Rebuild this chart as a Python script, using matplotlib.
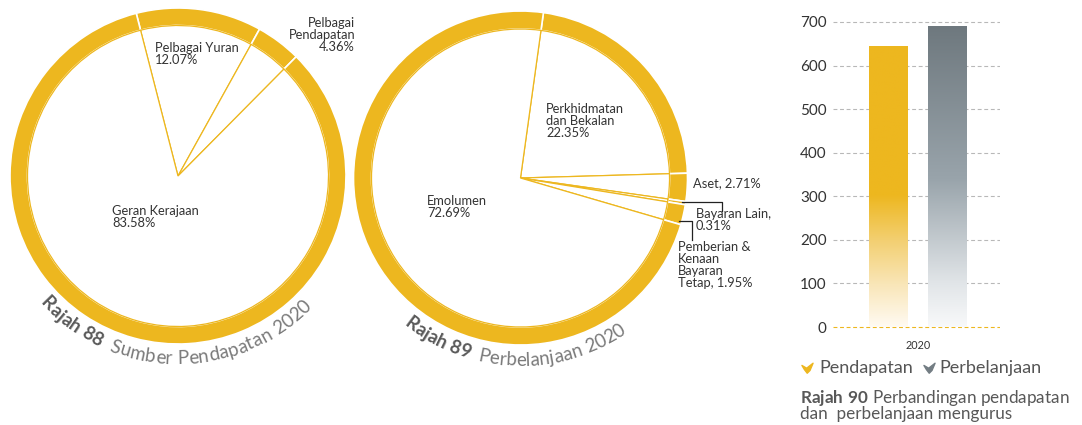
import numpy as np
import matplotlib
matplotlib.use('Agg')
import matplotlib.pyplot as plt
from matplotlib.path import Path
from matplotlib.colors import LinearSegmentedColormap
from matplotlib.font_manager import FontProperties

# ---------------- data ----------------
rev_labels = ['Pelbagai Yuran', 'Pelbagai Pendapatan', 'Geran Kerajaan']
rev_pct = [12.07, 4.36, 83.58]
exp_labels = ['Perkhidmatan dan Bekalan', 'Aset', 'Bayaran Lain',
              'Pemberian & Kenaan Bayaran Tetap', 'Emolumen']
exp_pct = [22.35, 2.71, 0.31, 1.95, 72.69]
years = ['2020']
pendapatan = [644]
perbelanjaan = [691]
yticks = [0, 100, 200, 300, 400, 500, 600, 700]
series_names = ['Pendapatan', 'Perbelanjaan']

# ---------------- style ----------------
W, H = 1082, 425
YEL = '#EDB71F'
GRY = '#737D83'
FONT = 'Lato'
plt.rcParams['font.family'] = [FONT, 'DejaVu Sans']
plt.rcParams['mathtext.fontset'] = 'custom'
plt.rcParams['mathtext.rm'] = FONT
plt.rcParams['mathtext.bf'] = FONT + ':bold'

fig = plt.figure(figsize=(W / 100, H / 100), dpi=100)
ax0 = fig.add_axes([0, 0, 1, 1])
ax0.set_xlim(0, W)
ax0.set_ylim(0, H)
ax0.axis('off')
renderer = fig.canvas.get_renderer()


def tw(s, fp):
    if not s:
        return 0.0
    w1, _, _ = renderer.get_text_width_height_descent(s + '|', fp, ismath=False)
    w0, _, _ = renderer.get_text_width_height_descent('|', fp, ismath=False)
    return w1 - w0


def ring_pie(ax, values, center, r_out, ring_w, startangle):
    ax.pie(values, radius=r_out, center=center, startangle=startangle,
           counterclock=False, frame=True,
           wedgeprops=dict(width=ring_w, facecolor=YEL, edgecolor='white', linewidth=1.2))
    ax.pie(values, radius=r_out - ring_w, center=center, startangle=startangle,
           counterclock=False, frame=True,
           wedgeprops=dict(facecolor='white', edgecolor=YEL, linewidth=0.9))


def curved(ax, cx, cy, r, start_deg, parts, track=0.0):
    s = 0.0
    for txt, fp, color in parts:
        for i, ch in enumerate(txt):
            wb = tw(txt[:i], fp)
            wa = tw(txt[:i + 1], fp)
            mid = s + (wb + wa) / 2 + i * track
            th = np.radians(start_deg) + mid / r
            if ch != ' ':
                ax.text(cx + r * np.cos(th), cy + r * np.sin(th), ch,
                        rotation=np.degrees(th) + 90, rotation_mode='anchor',
                        ha='center', va='baseline', fontproperties=fp, color=color)
        s += tw(txt, fp) + len(txt) * track


# ---------------- pies ----------------
c1 = (178, H - 176)
c2 = (520.5, H - 178)
ring_pie(ax0, rev_pct, c1, 168, 17.5, 104.4)
ring_pie(ax0, exp_pct, c2, 167, 18, 82.1)
ax0.set_xlim(0, W)
ax0.set_ylim(0, H)
ax0.set_aspect('auto')

lab_kw = dict(fontsize=9.3, color='#333333', va='top', linespacing=1.0)
ax0.text(155, H - 42, f'{rev_labels[0]}\n{rev_pct[0]:.2f}%', ha='left', **lab_kw)
ax0.text(355, H - 17, 'Pelbagai\nPendapatan\n' + f'{rev_pct[1]:.2f}%', ha='right',
         multialignment='right', **lab_kw)
ax0.text(112, H - 205, f'{rev_labels[2]}\n{rev_pct[2]:.2f}%', ha='left', **lab_kw)

ax0.text(546, H - 103, 'Perkhidmatan\ndan Bekalan\n' + f'{exp_pct[0]:.2f}%', ha='left', **lab_kw)
ax0.text(427, H - 195, f'{exp_labels[4]}\n{exp_pct[4]:.2f}%', ha='left', **lab_kw)
ax0.text(693, H - 177, f'{exp_labels[1]}, {exp_pct[1]:.2f}%', ha='left', **lab_kw)
ax0.text(696, H - 208, f'{exp_labels[2]},\n{exp_pct[2]:.2f}%', ha='left', **lab_kw)
ax0.text(678, H - 241, 'Pemberian &\nKenaan\nBayaran\n' + f'Tetap, {exp_pct[3]:.2f}%',
         ha='left', **lab_kw)
ax0.plot([682, 722, 722], [H - 202, H - 202, H - 211], color='#222222', lw=0.9)
ax0.plot([679, 692, 692], [H - 220.5, H - 220.5, H - 240], color='#222222', lw=0.9)

fpb = FontProperties(family=FONT, weight='bold', size=13.5)
fpr = FontProperties(family=FONT, size=13.5)
curved(ax0, c1[0], c1[1], 188, 222.5, [('Rajah 88  ', fpb, '#595959'),
                                       ('Sumber Pendapatan 2020', fpr, '#7a7a7a')], track=0.3)
curved(ax0, c2[0], c2[1], 188, 231.5, [('Rajah 89  ', fpb, '#595959'),
                                       ('Perbelanjaan 2020', fpr, '#7a7a7a')], track=0.1)

# ---------------- bar chart ----------------
ax_l, ax_r = 833, 1000
ax_b, ax_t = 329.2, 19.8
ax1 = fig.add_axes([ax_l / W, (H - ax_b) / H, (ax_r - ax_l) / W, (ax_b - ax_t) / H])
ax1.set_facecolor('none')
x = np.arange(len(years))
unit = 59.0
bw = 39 / unit
bars1 = ax1.bar(x - 0.5, pendapatan, width=bw, color='none', edgecolor='none')
bars2 = ax1.bar(x + 0.5, perbelanjaan, width=bw, color='none', edgecolor='none')

cm_y = LinearSegmentedColormap.from_list('y', [(0, '#FFFAF2'), (0.15, '#F9E6B8'),
                                               (0.31, '#F3CF70'), (0.47, YEL), (1, YEL)])
cm_g = LinearSegmentedColormap.from_list('g', [(0, '#F8F9FA'), (0.145, '#E1E5E8'),
                                               (0.49, '#99A4AB'), (1, '#6E787E')])
grad = np.linspace(0, 1, 256).reshape(-1, 1)
for bars, cm in ((bars1, cm_y), (bars2, cm_g)):
    for p in bars:
        x0, y0 = p.get_x(), p.get_y()
        im = ax1.imshow(grad, cmap=cm, origin='lower', aspect='auto',
                        extent=(x0, x0 + p.get_width(), y0, y0 + p.get_height()), zorder=2)
        im.set_clip_path(p)

ax1.set_xlim(-(918 - ax_l) / unit, (ax_r - 918) / unit)
ax1.set_ylim(-5, 705)
ax1.set_yticks(yticks)
ax1.set_yticklabels([str(v) for v in yticks])
ax1.set_xticks(x)
ax1.set_xticklabels(years)
for sp in ax1.spines.values():
    sp.set_visible(False)
ax1.tick_params(axis='y', length=0, pad=4.5, labelsize=11, labelcolor='#333333')
ax1.tick_params(axis='x', length=0, pad=8, labelsize=7.8, labelcolor='#333333')
ax1.yaxis.grid(True, linestyle=(0, (3.5, 2.4)), color='#b8b8b8', linewidth=0.8)
ax1.set_axisbelow(True)
ax1.get_ygridlines()[0].set_color(YEL)

# legend markers
mk = Path([(-1.0, 0.55), (-0.15, 0.05), (1.0, 0.95), (0.45, -0.35), (-0.05, -0.85),
           (-0.55, -0.2), (-1.0, 0.55)],
          [Path.MOVETO] + [Path.LINETO] * 5 + [Path.CLOSEPOLY])
leg_y = H - 368
ax0.plot([807], [leg_y], marker=mk, markersize=8, color=YEL, ls='none')
ax0.text(819, leg_y, series_names[0], fontsize=13, color='#555555', va='center', ha='left')
ax0.plot([929], [leg_y], marker=mk, markersize=8, color=GRY, ls='none')
ax0.text(939, leg_y, series_names[1], fontsize=13, color='#555555', va='center', ha='left')

# caption (single multi-line text; bold part via mathtext)
ax0.text(800, H - 419, r'$\mathbf{Rajah\ 90}$ Perbandingan pendapatan' + '\n'
         + 'dan  perbelanjaan mengurus', fontsize=12.3, color='#585858',
         va='baseline', ha='left', linespacing=0.86)

fig.savefig('out.png', dpi=100)
